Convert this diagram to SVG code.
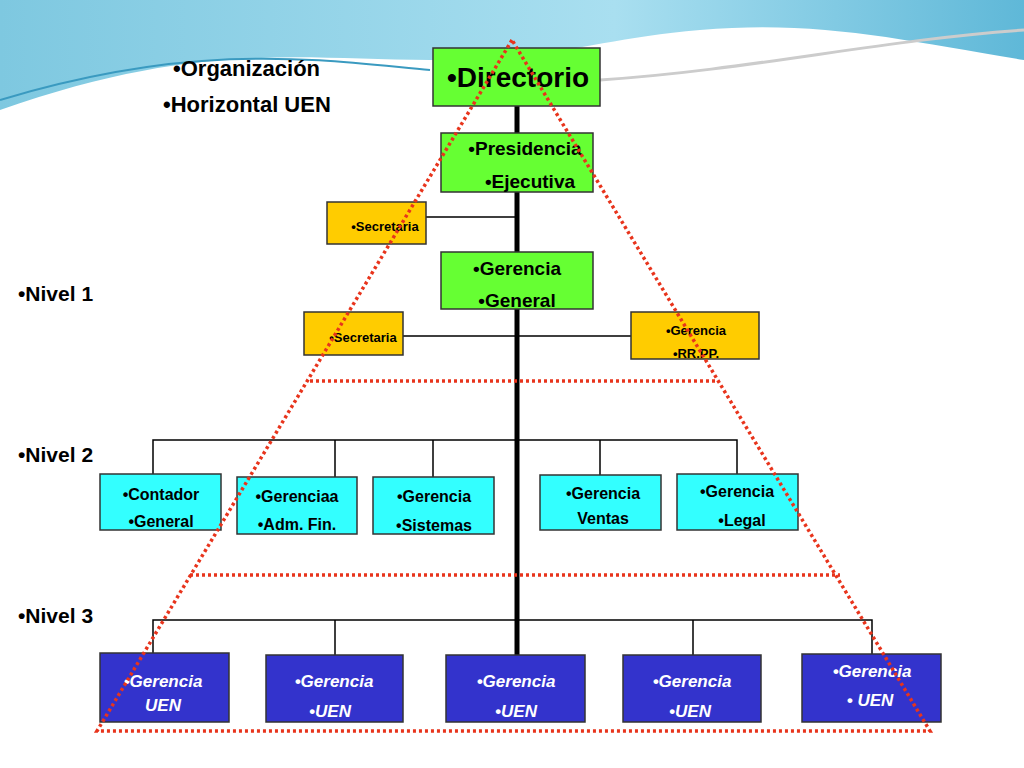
<svg xmlns="http://www.w3.org/2000/svg" width="1024" height="768" viewBox="0 0 1024 768">
<defs>
<linearGradient id="sky" x1="0" y1="0" x2="1" y2="0"><stop offset="0" stop-color="#7ec8e0"/><stop offset="0.6" stop-color="#a9dff0"/><stop offset="1" stop-color="#5fb8d8"/></linearGradient>
</defs>
<style>
text{font-family:"Liberation Sans",Arial,sans-serif;font-weight:bold}
.g{fill:#66ff33;stroke:#333;stroke-width:1.5}
.y{fill:#ffcc00;stroke:#333;stroke-width:1.5}
.c{fill:#33ffff;stroke:#333;stroke-width:1.5}
.b{fill:#3333cc;stroke:#333;stroke-width:1.5}
.w{fill:#fff;font-style:italic;font-size:17px}
.ln{stroke:#000;stroke-width:1.5;fill:none}
.red{stroke:#e8341c;stroke-width:3.5;fill:none;stroke-dasharray:3 3}
</style>
<rect width="1024" height="768" fill="#fff"/>
<path d="M0 0H1024V60C900 40 820 20 700 30C600 38 560 60 430 60C300 60 200 40 0 110Z" fill="url(#sky)"/>
<path d="M0 100C200 40 320 60 430 70" stroke="#3a9ac0" stroke-width="2" fill="none"/>
<path d="M600 80C750 70 880 40 1024 30" stroke="#ccc" stroke-width="3" fill="none"/>
<g id="labels">
<text x="173" y="76" font-size="22">•Organización</text>
<text x="163" y="112" font-size="22">•Horizontal UEN</text>
<text x="18" y="301" font-size="21">•Nivel 1</text>
<text x="18" y="462" font-size="21">•Nivel 2</text>
<text x="18" y="623" font-size="21">•Nivel 3</text>
</g>
<g id="connectors">
<line x1="517" y1="106" x2="517" y2="655" stroke="#000" stroke-width="5"/>
<path class="ln" d="M426 217H517M403 336H631"/>
<path class="ln" d="M153 474V440H737V474M335 440V477M433 440V477M600 440V475"/>
<path class="ln" d="M153 653V620H872V654M335 620V655M693 620V655"/>
</g>
<g id="n-directorio"><rect class="g" x="433" y="48" width="167" height="58"/><text x="518" y="87" font-size="28" text-anchor="middle">•Directorio</text></g>
<g id="n-presidencia"><rect class="g" x="441" y="133" width="152" height="59"/><text x="525" y="155" font-size="19" text-anchor="middle">•Presidencia</text><text x="530" y="188" font-size="19" text-anchor="middle">•Ejecutiva</text></g>
<g id="n-sec1"><rect class="y" x="327" y="202" width="99" height="42"/><text x="385" y="231" font-size="13" text-anchor="middle">•Secretaria</text></g>
<g id="n-gg"><rect class="g" x="441" y="252" width="152" height="57"/><text x="517" y="275" font-size="19" text-anchor="middle">•Gerencia</text><text x="517" y="307" font-size="19" text-anchor="middle">•General</text></g>
<g id="n-sec2"><rect class="y" x="304" y="312" width="99" height="43"/><text x="363" y="342" font-size="13" text-anchor="middle">•Secretaria</text></g>
<g id="n-rrpp"><rect class="y" x="631" y="312" width="128" height="47"/><text x="696" y="335" font-size="13" text-anchor="middle">•Gerencia</text><text x="696" y="358" font-size="13" text-anchor="middle">•RR.PP.</text></g>
<g id="n-contador"><rect class="c" x="100" y="474" width="121" height="56"/><text x="161" y="500" font-size="16" text-anchor="middle">•Contador</text><text x="161" y="527" font-size="16" text-anchor="middle">•General</text></g>
<g id="n-adm"><rect class="c" x="237" y="477" width="120" height="57"/><text x="297" y="502" font-size="16" text-anchor="middle">•Gerenciaa</text><text x="297" y="530" font-size="16" text-anchor="middle">•Adm. Fin.</text></g>
<g id="n-sist"><rect class="c" x="373" y="477" width="121" height="57"/><text x="434" y="502" font-size="16" text-anchor="middle">•Gerencia</text><text x="434" y="531" font-size="16" text-anchor="middle">•Sistemas</text></g>
<g id="n-ventas"><rect class="c" x="540" y="475" width="121" height="55"/><text x="603" y="499" font-size="16" text-anchor="middle">•Gerencia</text><text x="603" y="524" font-size="16" text-anchor="middle">Ventas</text></g>
<g id="n-legal"><rect class="c" x="677" y="474" width="121" height="56"/><text x="737" y="497" font-size="16" text-anchor="middle">•Gerencia</text><text x="742" y="526" font-size="16" text-anchor="middle">•Legal</text></g>
<g id="n-uen1"><rect class="b" x="100" y="653" width="129" height="69"/><text class="w" x="163" y="687" text-anchor="middle">•Gerencia</text><text class="w" x="163" y="711" text-anchor="middle">UEN</text></g>
<g id="n-uen2"><rect class="b" x="266" y="655" width="137" height="67"/><text class="w" x="334" y="687" text-anchor="middle">•Gerencia</text><text class="w" x="330" y="717" text-anchor="middle">•UEN</text></g>
<g id="n-uen3"><rect class="b" x="446" y="655" width="139" height="67"/><text class="w" x="516" y="687" text-anchor="middle">•Gerencia</text><text class="w" x="516" y="717" text-anchor="middle">•UEN</text></g>
<g id="n-uen4"><rect class="b" x="623" y="655" width="138" height="67"/><text class="w" x="692" y="687" text-anchor="middle">•Gerencia</text><text class="w" x="690" y="717" text-anchor="middle">•UEN</text></g>
<g id="n-uen5"><rect class="b" x="802" y="654" width="139" height="68"/><text class="w" x="872" y="677" text-anchor="middle">•Gerencia</text><text class="w" x="870" y="706" text-anchor="middle">• UEN</text></g>
<g id="pyramid">
<path class="red" d="M512 40L97 731H930Z"/>
<path class="red" d="M310 381H717M190 575H840"/>
</g>
</svg>
